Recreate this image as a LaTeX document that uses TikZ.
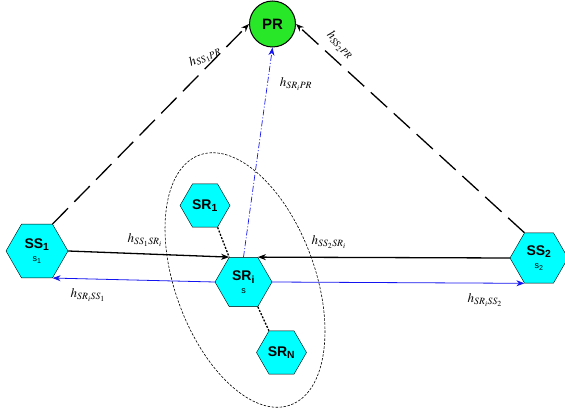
\documentclass[tikz,border=0pt]{standalone}
\usepackage{mathptmx}
\usepackage{fontspec}
\setmainfont{Liberation Sans}
\definecolor{nodecyan}{RGB}{0,255,255}
\definecolor{prgreen}{RGB}{40,230,40}
\definecolor{linkblue}{RGB}{20,20,240}
\usetikzlibrary{positioning,arrows.meta,shapes.geometric}

\begin{document}
\begin{tikzpicture}[x=1pt, y=-1pt, >={Stealth[length=8pt,width=6pt]},
  every node/.style={font=\fontsize{14}{15}\selectfont},
  hexnode/.style={draw, regular polygon, regular polygon sides=6, fill=nodecyan, inner sep=0pt, align=center, font=\fontsize{14}{14}\selectfont\bfseries},
  chlabel/.style={inner sep=1pt, font=\fontsize{13}{14}\selectfont}]
  \useasboundingbox (0,0) rectangle (565,414);
  % cluster of relays
  \draw[dashed, line width=0.6pt, dash pattern=on 2.5pt off 1.5pt, rotate around={20:(245,280)}] (245,280) ellipse [x radius=70, y radius=133];
  \node[draw, circle, fill=prgreen, line width=1pt, minimum size=46pt, inner sep=0pt, font=\fontsize{15}{15}\selectfont\bfseries] (pr) at (272.5,24) {PR};
  \node[hexnode, minimum size=62pt] (ss1) at (37,251) {SS\textsubscript{1}\\[-1pt]{\fontsize{9}{9}\selectfont\mdseries s\textsubscript{1}}};
  \node[hexnode, minimum size=58pt] (ss2) at (539,258) {SS\textsubscript{2}\\[-1pt]{\fontsize{9}{9}\selectfont\mdseries s\textsubscript{2}}};
  \node[hexnode, minimum size=57pt] (sri) at (243.5,282) {SR\textsubscript{i}\\[-1pt]{\fontsize{9}{9}\selectfont\mdseries s}};
  \node[hexnode, minimum size=50pt] (sr1) at (205,205.5) {SR\textsubscript{1}};
  \node[hexnode, minimum size=50pt] (srn) at (281.5,352.5) {SR\textsubscript{N}};
  % links to the primary receiver
  \draw[->, line width=1.3pt, dash pattern=on 22pt off 9pt] (ss1.60) -- (pr.west);
  \draw[->, line width=1.3pt, dash pattern=on 22pt off 9pt] (ss2.120) -- (pr.east);
  \draw[->, linkblue, line width=0.7pt, dash pattern=on 6pt off 2pt on 1pt off 2pt] (sri.north) -- (pr.south);
  % source to relay and back
  \draw[->, line width=1.3pt] (ss1.0) -- (sri.120);
  \draw[->, line width=1.3pt] (ss2.180) -- (sri.60);
  \draw[->, linkblue, line width=0.8pt] (sri.180) -- (ss1.300);
  \draw[->, linkblue, line width=0.8pt] (sri.0) -- (ss2.240);
  \draw[line width=1.3pt, dash pattern=on 2pt off 1.5pt] (sr1.300) -- (sri.120);
  \draw[line width=1.3pt, dash pattern=on 2pt off 1.5pt] (sri.300) -- (srn.120);
  % channel labels
  \node[chlabel, rotate=25] (h1p) at (205,57) {$h_{SS_1PR}$};
  \node[chlabel, rotate=-45] (h2p) at (340,45) {$h_{SS_2PR}$};
  \node[chlabel] (hrp) at (296,84) {$h_{SR_iPR}$};
  \node[chlabel] (h1r) at (145,240) {$h_{SS_1SR_i}$};
  \node[chlabel] (h2r) at (329,242) {$h_{SS_2SR_i}$};
  \node[chlabel] (hr1) at (88,295) {$h_{SR_iSS_1}$};
  \node[chlabel] (hr2) at (485,300) {$h_{SR_iSS_2}$};
\end{tikzpicture}
\end{document}
